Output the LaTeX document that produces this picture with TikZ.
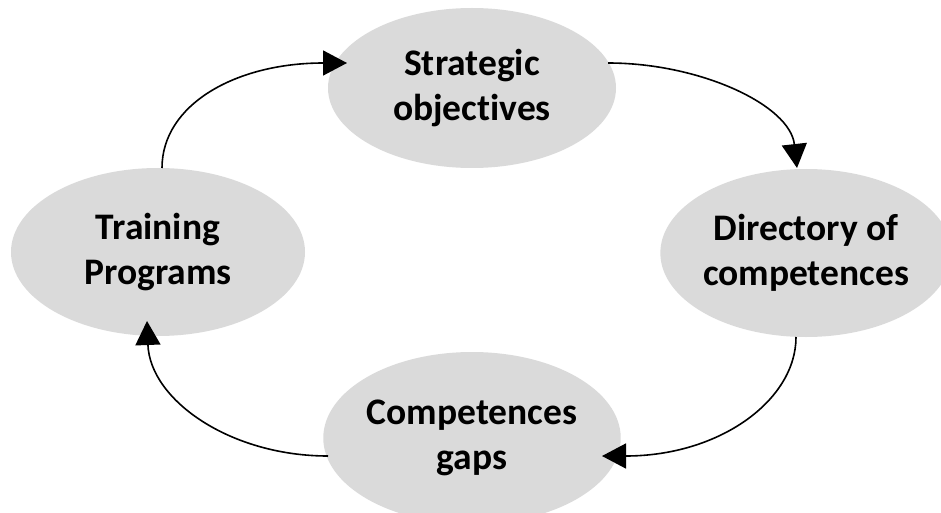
\documentclass[tikz,border=0pt]{standalone}
\usepackage{fontspec}
\setmainfont[Ligatures={NoCommon}]{Carlito}
\usetikzlibrary{arrows.meta,shapes.geometric,calc}
\definecolor{ellgray}{RGB}{218,218,218}
\tikzset{
  blob/.style={ellipse, fill=ellgray, draw=none, inner sep=0pt,
    font=\bfseries\fontsize{37.5}{45}\selectfont, align=center},
  flow/.style={line width=1.6pt, -{Triangle[length=24pt,width=25pt]}}
}
\begin{document}
\begin{tikzpicture}[x=1pt,y=-1pt]
\useasboundingbox (0,0) rectangle (941,513);
\node[blob, minimum width=288pt, minimum height=160pt] (T) at (472,88) {Strategic\\objectives};
\node[blob, minimum width=290pt, minimum height=168pt] (R) at (806,253) {Directory of\\competences};
\node[blob, minimum width=290pt, minimum height=172pt] (B) at (472,438) {Competences\\gaps};
\node[blob, minimum width=294pt, minimum height=168pt] (L) at (158,252) {Training\\Programs};
\draw[flow] ($(L.center)+(4,-84)$) .. controls (162,105) and (235,63) .. ($(T.center)+(-125,-25)$);
\draw[flow] ($(T.center)+(136,-25)$) .. controls (700,63) and (790,105) .. ($(R.center)+(-9,-85)$);
\draw[flow] ($(R.center)+(-10,84)$) .. controls (796,400) and (720,456) .. ($(B.center)+(130,18)$);
\draw[flow] ($(B.center)+(-144,18)$) .. controls (230,456) and (150,400) .. ($(L.center)+(-11,69)$);
\end{tikzpicture}
\end{document}
